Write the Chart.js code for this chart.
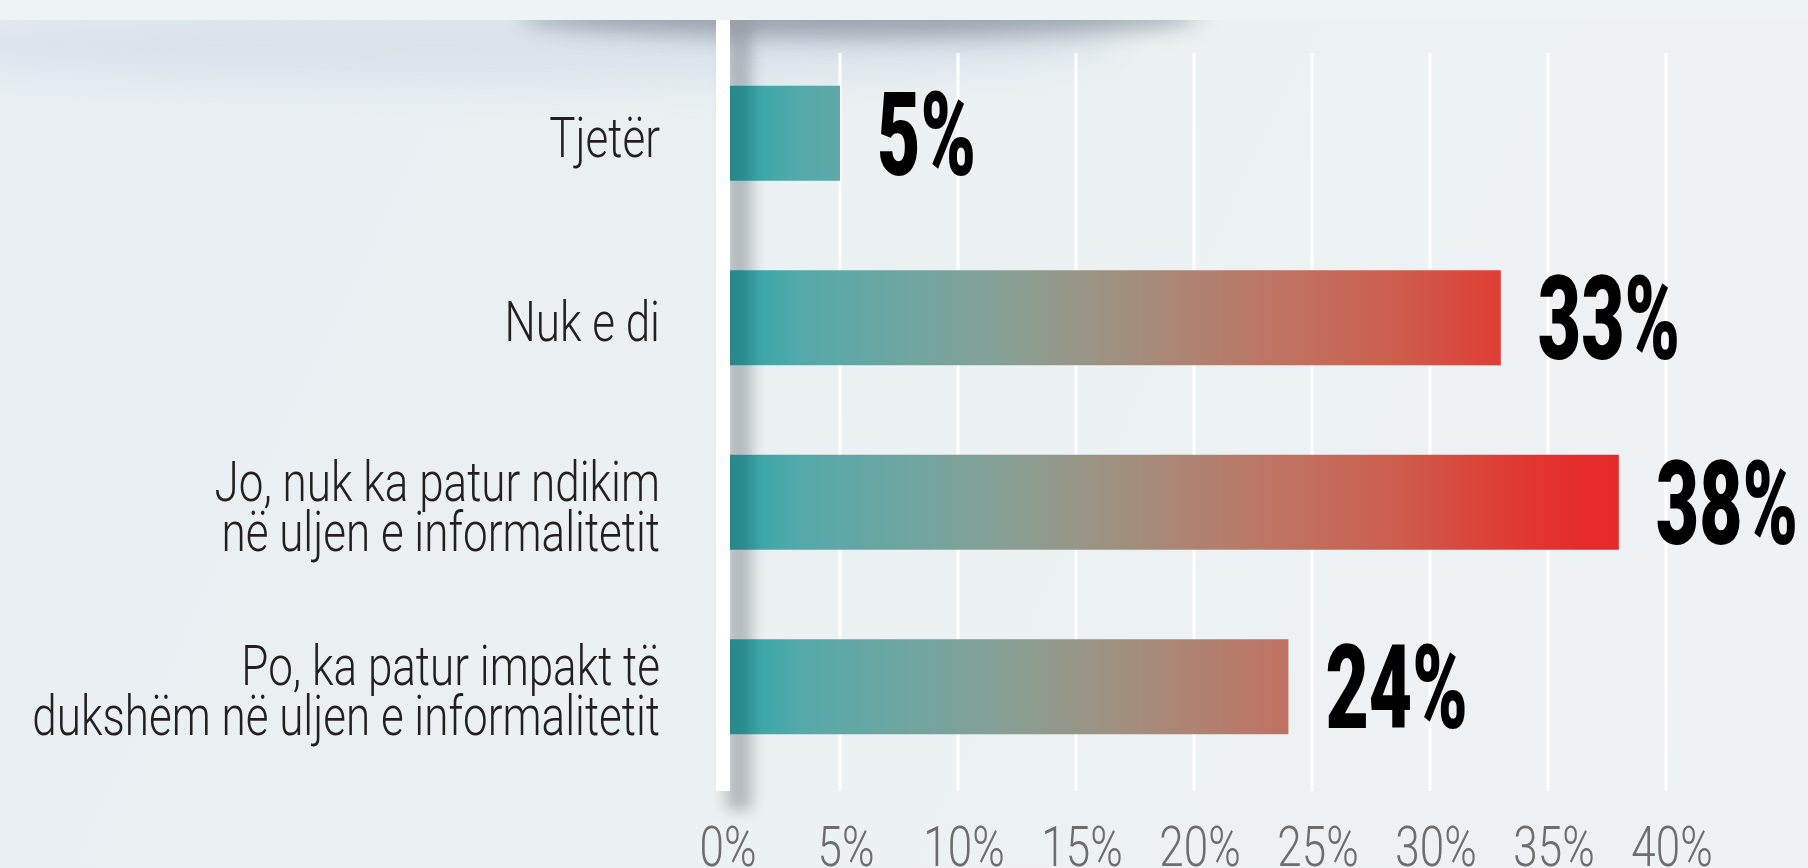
<!DOCTYPE html>
<html>
<head>
<meta charset="utf-8">
<script src="https://cdn.jsdelivr.net/npm/chart.js@4.4.1/dist/chart.umd.min.js"></script>
<style>
	html, body { margin: 0; padding: 0; background: #ecf1f3; overflow: hidden; }
	#chart { display: block; }
</style>
</head>
<body>
<canvas id="chart" width="1808" height="868"></canvas>
<script>
const categories = [
	["Tjetër"],
	["Nuk e di"],
	["Jo, nuk ka patur ndikim", "në uljen e informalitetit"],
	["Po, ka patur impakt të", "dukshëm në uljen e informalitetit"]
];
const values = [5, 33, 38, 24];
const tick_values = [0, 5, 10, 15, 20, 25, 30, 35, 40];
const tick_labels = ["0%", "5%", "10%", "15%", "20%", "25%", "30%", "35%", "40%"];

// teal -> grey -> red, laid over the whole value range
const gradient_stops = [
	[0, "#278488"],
	[0.025, "#2b8d90"],
	[0.045, "#3ea7a9"],
	[0.09, "#55a9a9"],
	[0.18, "#69a6a3"],
	[0.31, "#86a096"],
	[0.41, "#9a9484"],
	[0.51, "#ad8574"],
	[0.62, "#bf7363"],
	[0.755, "#cd5d4c"],
	[0.86, "#de3f36"],
	[0.95, "#e52c2d"],
	[1, "#e52a2c"]
];

const squeeze = 0.8;
const light_font = "300 55px Roboto, 'Liberation Sans', sans-serif";
const bold_font = "900 117px Roboto, 'Liberation Sans', sans-serif";

function squeezed_text(ctx, text, x, y, factor, align) {
	ctx.save();
	ctx.translate(x, y);
	ctx.scale(factor, 1);
	ctx.textAlign = align;
	ctx.fillText(text, 0, 0);
	ctx.restore();
}

function bar_gradient(context) {
	const chart = context.chart;
	const x = chart.scales.x;
	if (!chart.chartArea || !x) return "#3ea7a9";
	const g = chart.ctx.createLinearGradient(x.getPixelForValue(0), 0, x.getPixelForValue(Math.max(...values)), 0);
	gradient_stops.forEach(([at, col]) => g.addColorStop(at, col));
	return g;
}

const decor = {
	id: "decor",
	beforeDraw(chart) {
		const ctx = chart.ctx;
		const x = chart.scales.x;
		const x0 = x.getPixelForValue(0);
		ctx.save();
		// base background with a faint diagonal sheen
		const bg = ctx.createLinearGradient(0, 0, 1808, 868);
		bg.addColorStop(0, "#e8eef2");
		bg.addColorStop(0.5, "#ecf1f3");
		bg.addColorStop(1, "#eef2f3");
		ctx.fillStyle = bg;
		ctx.fillRect(0, 0, chart.width, chart.height);

		// soft shadow below the top strip
		ctx.filter = "blur(16px)";
		ctx.fillStyle = "rgba(205, 218, 230, 0.55)";
		ctx.beginPath();
		ctx.ellipse(520, 45, 600, 40, 0, 0, Math.PI * 2);
		ctx.fill();
		ctx.filter = "blur(11px)";
		ctx.fillStyle = "rgba(110, 122, 136, 0.6)";
		ctx.beginPath();
		ctx.ellipse(860, 16, 340, 22, 0, 0, Math.PI * 2);
		ctx.fill();

		// shadow cast by the white axis
		ctx.filter = "blur(7px)";
		ctx.fillStyle = "rgba(135, 142, 146, 0.55)";
		ctx.fillRect(x0 + 4, 20, 26, 790);
		ctx.filter = "none";

		// top strip
		ctx.fillStyle = "#eef3f3";
		ctx.fillRect(0, 0, chart.width, 20);
		ctx.restore();
	},
	beforeDatasetsDraw(chart) {
		const ctx = chart.ctx;
		const x = chart.scales.x;
		ctx.save();
		ctx.fillStyle = "#ffffff";
		tick_values.forEach(v => {
			if (v === 0) return;
			const px = Math.round(x.getPixelForValue(v));
			ctx.fillRect(px - 1.5, 53, 3, 738);
		});
		ctx.restore();
	},
	afterDatasetsDraw(chart) {
		const ctx = chart.ctx;
		const x = chart.scales.x;
		const y = chart.scales.y;
		const x0 = x.getPixelForValue(0);
		ctx.save();

		// white axis line
		ctx.fillStyle = "#ffffff";
		ctx.fillRect(x0 - 6, 20, 14, 771);

		// category labels
		ctx.fillStyle = "#231f20";
		ctx.font = light_font;
		categories.forEach((lines, i) => {
			const cy = y.getPixelForValue(i);
			lines.forEach((line, j) => {
				const base = cy + 23.5 + (j - (lines.length - 1) / 2) * 50;
				squeezed_text(ctx, line, 660, base, squeeze, "right");
			});
		});

		// tick labels
		ctx.fillStyle = "#6d6d6d";
		tick_values.forEach((v, i) => {
			squeezed_text(ctx, tick_labels[i], x.getPixelForValue(v) + 6, 866, squeeze, "center");
		});

		// value labels
		ctx.fillStyle = "#000000";
		ctx.font = bold_font;
		const bars = chart.getDatasetMeta(0).data;
		bars.forEach((bar, i) => {
			squeezed_text(ctx, values[i] + "%", bar.x + 37, bar.y + 41.5, 0.64, "left");
		});
		ctx.restore();
	}
};

new Chart(document.getElementById("chart"), {
	type: "bar",
	data: {
		labels: categories,
		datasets: [{
			data: values,
			backgroundColor: bar_gradient,
			borderWidth: 0,
			barPercentage: 1,
			categoryPercentage: 0.515
		}]
	},
	options: {
		indexAxis: "y",
		responsive: false,
		animation: false,
		layout: {
			padding: { left: 722, right: 142, top: 41, bottom: 89 }
		},
		scales: {
			x: { display: false, min: 0, max: 40 },
			y: { display: false }
		},
		plugins: {
			legend: { display: false },
			tooltip: { enabled: false }
		}
	},
	plugins: [decor]
});
</script>
</body>
</html>
